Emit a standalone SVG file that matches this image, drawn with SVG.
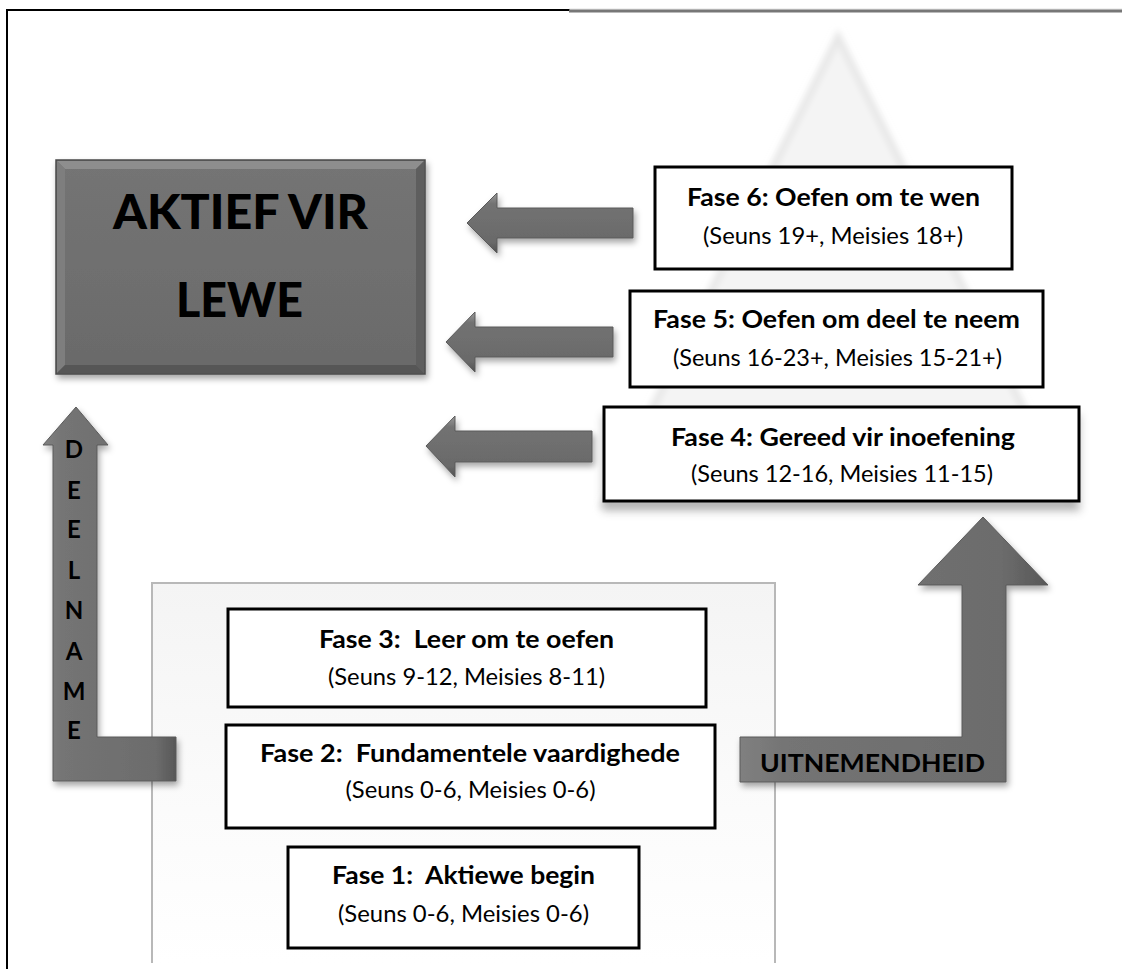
<svg xmlns="http://www.w3.org/2000/svg" width="1122" height="969" viewBox="0 0 1122 969">
  <style>
    .box { fill: #ffffff; stroke: #000000; stroke-width: 3; }
    .title { font-family: Lato, "Noto Sans", sans-serif; font-weight: bold; font-size: 25px; fill: #000; text-anchor: middle; }
    .sub { font-family: Lato, "Noto Sans", sans-serif; font-size: 23px; fill: #000; text-anchor: middle; }
    .big { font-family: Lato, "Noto Sans", sans-serif; font-weight: 900; font-size: 47px; fill: #000; text-anchor: middle; }
    .letter { font-family: Lato, "Noto Sans", sans-serif; font-weight: bold; font-size: 24px; fill: #000; text-anchor: middle; }
    .arrow { fill: url(#arrowGrad); stroke: #5a5a5a; stroke-width: 1; filter: url(#shadow); }
  </style>
  <defs>
    <filter id="shadow" x="-20%" y="-20%" width="150%" height="160%">
      <feDropShadow dx="2" dy="4" stdDeviation="3" flood-color="#000" flood-opacity="0.35"/>
    </filter>
    <filter id="softShadow" x="-10%" y="-20%" width="120%" height="160%">
      <feDropShadow dx="0" dy="9" stdDeviation="4" flood-color="#000" flood-opacity="0.22"/>
    </filter>
    <filter id="blur" x="-10%" y="-10%" width="120%" height="120%">
      <feGaussianBlur stdDeviation="3"/>
    </filter>
    <linearGradient id="arrowGrad" x1="0" y1="0" x2="0" y2="1">
      <stop offset="0" stop-color="#9a9a9a"/>
      <stop offset="0.18" stop-color="#727272"/>
      <stop offset="0.82" stop-color="#6a6a6a"/>
      <stop offset="1" stop-color="#505050"/>
    </linearGradient>
    <linearGradient id="vGrad" x1="0" y1="0" x2="1" y2="0">
      <stop offset="0" stop-color="#808080"/>
      <stop offset="0.15" stop-color="#747474"/>
      <stop offset="0.85" stop-color="#6c6c6c"/>
      <stop offset="1" stop-color="#575757"/>
    </linearGradient>
    <linearGradient id="boxGrad" x1="0" y1="0" x2="0" y2="1">
      <stop offset="0" stop-color="#747474"/>
      <stop offset="1" stop-color="#6a6a6a"/>
    </linearGradient>
    <linearGradient id="panelGrad" x1="0" y1="0" x2="0" y2="1">
      <stop offset="0" stop-color="#f4f4f4"/>
      <stop offset="0.5" stop-color="#fafafa"/>
      <stop offset="1" stop-color="#ffffff"/>
    </linearGradient>
  </defs>

  <!-- frame -->
  <g id="frame">
    <line x1="7" y1="9" x2="7" y2="969" stroke="#000" stroke-width="2"/>
    <line x1="6" y1="10" x2="570" y2="10" stroke="#000" stroke-width="2"/>
    <line x1="569" y1="9" x2="1122" y2="9" stroke="#e2e2e2" stroke-width="1"/>
    <line x1="569" y1="11" x2="1122" y2="11" stroke="#777777" stroke-width="3"/>
  </g>

  <!-- background pyramid -->
  <g id="pyramid">
    <polygon points="838,37 1072,505 604,505" fill="#f4f4f4" stroke="#e6e6e6" stroke-width="7" filter="url(#blur)"/>
  </g>

  <!-- lower panel -->
  <g id="panel">
    <rect x="152" y="583" width="623" height="380" fill="url(#panelGrad)"/>
    <path d="M152,963 L152,583 L775,583 L775,963" fill="none" stroke="#b8b8b8" stroke-width="2"/>
  </g>

  <!-- connectors -->
  <g id="connectors">
    <path class="arrow" d="M467,223 L497,193 L497,208 L633,208 L633,238 L497,238 L497,253 Z"/>
    <path class="arrow" d="M446,342 L475,312 L475,327 L613,327 L613,357 L475,357 L475,372 Z"/>
    <path class="arrow" d="M426,446 L455,416 L455,431 L592,431 L592,462 L455,462 L455,477 Z"/>
    <g id="deelname">
      <path d="M76,407 L108,445 L97,445 L97,737 L176,737 L176,781 L53,781 L53,445 L43,445 Z" fill="url(#vGrad)" stroke="#5a5a5a" stroke-width="1" filter="url(#shadow)"/>
      <text class="letter" x="74" y="458">D</text>
      <text class="letter" x="74" y="499">E</text>
      <text class="letter" x="74" y="538">E</text>
      <text class="letter" x="74" y="579">L</text>
      <text class="letter" x="74" y="619">N</text>
      <text class="letter" x="74" y="660">A</text>
      <text class="letter" x="74" y="700">M</text>
      <text class="letter" x="74" y="739">E</text>
    </g>
    <g id="uitnemendheid">
      <path d="M983,517 L1048,585 L1006,585 L1006,782 L740,782 L740,737 L962,737 L962,585 L918,585 Z" fill="url(#vGrad)" stroke="#5a5a5a" stroke-width="1" filter="url(#shadow)"/>
      <text class="title" x="872.5" y="772" textLength="225" lengthAdjust="spacingAndGlyphs">UITNEMENDHEID</text>
    </g>
  </g>

  <!-- main box -->
  <g id="aktief">
    <rect x="56" y="160" width="369" height="214" fill="url(#boxGrad)" stroke="#4a4a4a" stroke-width="1.5" filter="url(#shadow)"/>
    <polygon points="57,161 424,161 416,169 65,169" fill="#8e8e8e"/>
    <polygon points="57,161 65,169 65,365 57,373" fill="#7e7e7e"/>
    <polygon points="424,161 424,373 416,365 416,169" fill="#5e5e5e"/>
    <polygon points="57,373 65,365 416,365 424,373" fill="#565656"/>
    <text class="big" x="240.5" y="229" textLength="255" lengthAdjust="spacingAndGlyphs">AKTIEF VIR</text>
    <text class="big" x="239.5" y="317" textLength="127" lengthAdjust="spacingAndGlyphs">LEWE</text>
  </g>

  <g id="fase6">
    <rect class="box" x="655" y="167" width="357" height="102"/>
    <text class="title" x="833.5" y="206" textLength="293" lengthAdjust="spacingAndGlyphs">Fase 6: Oefen om te wen</text>
    <text class="sub" x="833" y="244" textLength="260" lengthAdjust="spacingAndGlyphs">(Seuns 19+, Meisies 18+)</text>
  </g>

  <g id="fase5">
    <rect class="box" x="630" y="291" width="413" height="96"/>
    <text class="title" x="836.5" y="328" textLength="367" lengthAdjust="spacingAndGlyphs">Fase 5: Oefen om deel te neem</text>
    <text class="sub" x="837.5" y="366" textLength="329" lengthAdjust="spacingAndGlyphs">(Seuns 16-23+, Meisies 15-21+)</text>
  </g>

  <g id="fase4">
    <rect class="box" x="604" y="407" width="475" height="94" filter="url(#softShadow)"/>
    <text class="title" x="843" y="446" textLength="344" lengthAdjust="spacingAndGlyphs">Fase 4: Gereed vir inoefening</text>
    <text class="sub" x="842" y="482" textLength="302" lengthAdjust="spacingAndGlyphs">(Seuns 12-16, Meisies 11-15)</text>
  </g>

  <g id="fase3">
    <rect class="box" x="228" y="609" width="478" height="98"/>
    <text class="title" x="466.5" y="648" xml:space="preserve" textLength="295" lengthAdjust="spacingAndGlyphs">Fase 3:  Leer om te oefen</text>
    <text class="sub" x="466.5" y="685" textLength="277" lengthAdjust="spacingAndGlyphs">(Seuns 9-12, Meisies 8-11)</text>
  </g>

  <g id="fase2">
    <rect class="box" x="226" y="725" width="489" height="103"/>
    <text class="title" x="470" y="762" xml:space="preserve" textLength="420" lengthAdjust="spacingAndGlyphs">Fase 2:  Fundamentele vaardighede</text>
    <text class="sub" x="470.5" y="798" textLength="250" lengthAdjust="spacingAndGlyphs">(Seuns 0-6, Meisies 0-6)</text>
  </g>

  <g id="fase1">
    <rect class="box" x="288" y="847" width="351" height="101"/>
    <text class="title" x="463.5" y="884" xml:space="preserve" textLength="263" lengthAdjust="spacingAndGlyphs">Fase 1:  Aktiewe begin</text>
    <text class="sub" x="463.5" y="922" textLength="251" lengthAdjust="spacingAndGlyphs">(Seuns 0-6, Meisies 0-6)</text>
  </g>
</svg>
